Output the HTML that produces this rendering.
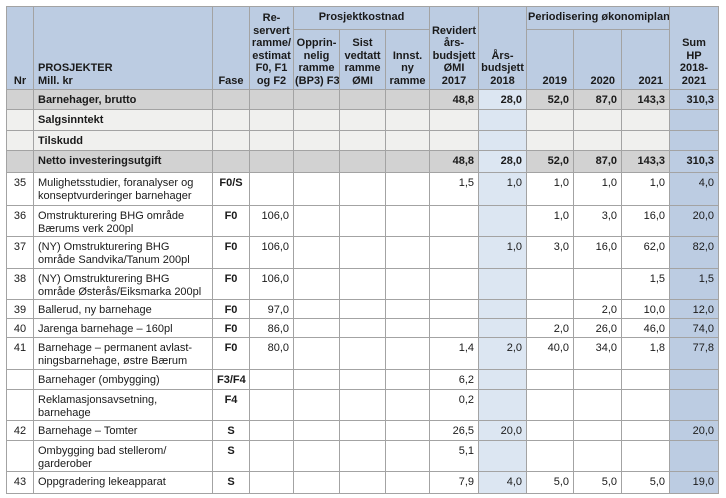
<!DOCTYPE html>
<html><head><meta charset="utf-8">
<style>
html,body{margin:0;padding:0;background:#fff;width:726px;height:498px;overflow:hidden}
table{position:absolute;left:6px;top:6px;border-collapse:collapse;table-layout:fixed;width:712px;font-family:"Liberation Sans",Arial,sans-serif;font-size:11px;color:#1a1a1a}
td,th{border:1px solid #a3a3a3;padding:0 4px;overflow:hidden;white-space:nowrap;line-height:12.5px}
th{background:#bccce2;font-weight:bold;vertical-align:bottom;text-align:center;padding-bottom:2px;padding-left:1px;padding-right:1px}
th.l{text-align:left;padding-left:4px}
td{vertical-align:top;padding-top:4px;text-align:right;background:#fff}
td.nr{text-align:center}
td.p{text-align:left}
td.f{text-align:center;font-weight:bold}
tr.g td{background:#d2d2d2;font-weight:bold}
tr.lt td{background:#f0f0ee;font-weight:bold}
tr.g td.a,tr.lt td.a,td.a{background:#dce6f2}
tr.g td.s,tr.lt td.s,td.s{background:#bccce2}
</style></head><body>
<table>
<colgroup><col style="width:27px"><col style="width:179px"><col style="width:37px"><col style="width:44px"><col style="width:46px"><col style="width:46px"><col style="width:44px"><col style="width:49px"><col style="width:48px"><col style="width:47px"><col style="width:48px"><col style="width:48px"><col style="width:49px"></colgroup>
<tr style="height:23px">
<th rowspan="2">Nr</th>
<th rowspan="2" class="l">PROSJEKTER<br>Mill. kr</th>
<th rowspan="2">Fase</th>
<th rowspan="2">Re-<br>servert<br>ramme/<br>estimat<br>F0, F1<br>og F2</th>
<th colspan="3" style="vertical-align:middle">Prosjektkostnad</th>
<th rowspan="2">Revidert<br>års-<br>budsjett<br>ØMI<br>2017</th>
<th rowspan="2">Års-<br>budsjett<br>2018</th>
<th colspan="3" style="vertical-align:middle">Periodisering økonomiplan</th>
<th rowspan="2">Sum<br>HP<br>2018-<br>2021</th>
</tr>
<tr style="height:60px">
<th>Opprin-<br>nelig<br>ramme<br>(BP3) F3</th>
<th>Sist<br>vedtatt<br>ramme<br>ØMI</th>
<th>Innst.<br>ny<br>ramme</th>
<th style="text-align:right;padding-right:6px">2019</th>
<th style="text-align:right;padding-right:6px">2020</th>
<th style="text-align:right;padding-right:6px">2021</th>
</tr>
<tr class="g" style="height:20px"><td></td><td class="p">Barnehager, brutto</td><td></td><td></td><td></td><td></td><td></td><td>48,8</td><td class="a">28,0</td><td>52,0</td><td>87,0</td><td>143,3</td><td class="s">310,3</td></tr>
<tr class="lt" style="height:21px"><td></td><td class="p">Salgsinntekt</td><td></td><td></td><td></td><td></td><td></td><td></td><td class="a"></td><td></td><td></td><td></td><td class="s"></td></tr>
<tr class="lt" style="height:20px"><td></td><td class="p">Tilskudd</td><td></td><td></td><td></td><td></td><td></td><td></td><td class="a"></td><td></td><td></td><td></td><td class="s"></td></tr>
<tr class="g" style="height:22px"><td></td><td class="p">Netto investeringsutgift</td><td></td><td></td><td></td><td></td><td></td><td>48,8</td><td class="a">28,0</td><td>52,0</td><td>87,0</td><td>143,3</td><td class="s">310,3</td></tr>
<tr style="height:33px"><td class="nr">35</td><td class="p">Mulighetsstudier, foranalyser og<br>konseptvurderinger barnehager</td><td class="f">F0/S</td><td></td><td></td><td></td><td></td><td>1,5</td><td class="a">1,0</td><td>1,0</td><td>1,0</td><td>1,0</td><td class="s">4,0</td></tr>
<tr style="height:31px"><td class="nr">36</td><td class="p">Omstrukturering BHG område<br>Bærums verk 200pl</td><td class="f">F0</td><td>106,0</td><td></td><td></td><td></td><td></td><td class="a"></td><td>1,0</td><td>3,0</td><td>16,0</td><td class="s">20,0</td></tr>
<tr style="height:32px"><td class="nr">37</td><td class="p">(NY) Omstrukturering BHG<br>område Sandvika/Tanum 200pl</td><td class="f">F0</td><td>106,0</td><td></td><td></td><td></td><td></td><td class="a">1,0</td><td>3,0</td><td>16,0</td><td>62,0</td><td class="s">82,0</td></tr>
<tr style="height:31px"><td class="nr">38</td><td class="p">(NY) Omstrukturering BHG<br>område Østerås/Eiksmarka 200pl</td><td class="f">F0</td><td>106,0</td><td></td><td></td><td></td><td></td><td class="a"></td><td></td><td></td><td>1,5</td><td class="s">1,5</td></tr>
<tr style="height:19px"><td class="nr">39</td><td class="p">Ballerud, ny barnehage</td><td class="f">F0</td><td>97,0</td><td></td><td></td><td></td><td></td><td class="a"></td><td></td><td>2,0</td><td>10,0</td><td class="s">12,0</td></tr>
<tr style="height:19px"><td class="nr">40</td><td class="p">Jarenga barnehage – 160pl</td><td class="f">F0</td><td>86,0</td><td></td><td></td><td></td><td></td><td class="a"></td><td>2,0</td><td>26,0</td><td>46,0</td><td class="s">74,0</td></tr>
<tr style="height:32px"><td class="nr">41</td><td class="p">Barnehage – permanent avlast-<br>ningsbarnehage, østre Bærum</td><td class="f">F0</td><td>80,0</td><td></td><td></td><td></td><td>1,4</td><td class="a">2,0</td><td>40,0</td><td>34,0</td><td>1,8</td><td class="s">77,8</td></tr>
<tr style="height:20px"><td></td><td class="p">Barnehager (ombygging)</td><td class="f">F3/F4</td><td></td><td></td><td></td><td></td><td>6,2</td><td class="a"></td><td></td><td></td><td></td><td class="s"></td></tr>
<tr style="height:31px"><td></td><td class="p">Reklamasjonsavsetning,<br>barnehage</td><td class="f">F4</td><td></td><td></td><td></td><td></td><td>0,2</td><td class="a"></td><td></td><td></td><td></td><td class="s"></td></tr>
<tr style="height:20px"><td class="nr">42</td><td class="p">Barnehage – Tomter</td><td class="f">S</td><td></td><td></td><td></td><td></td><td>26,5</td><td class="a">20,0</td><td></td><td></td><td></td><td class="s">20,0</td></tr>
<tr style="height:31px"><td></td><td class="p">Ombygging bad stellerom/<br>garderober</td><td class="f">S</td><td></td><td></td><td></td><td></td><td>5,1</td><td class="a"></td><td></td><td></td><td></td><td class="s"></td></tr>
<tr style="height:22px"><td class="nr">43</td><td class="p">Oppgradering lekeapparat</td><td class="f">S</td><td></td><td></td><td></td><td></td><td>7,9</td><td class="a">4,0</td><td>5,0</td><td>5,0</td><td>5,0</td><td class="s">19,0</td></tr>
</table>
</body></html>
